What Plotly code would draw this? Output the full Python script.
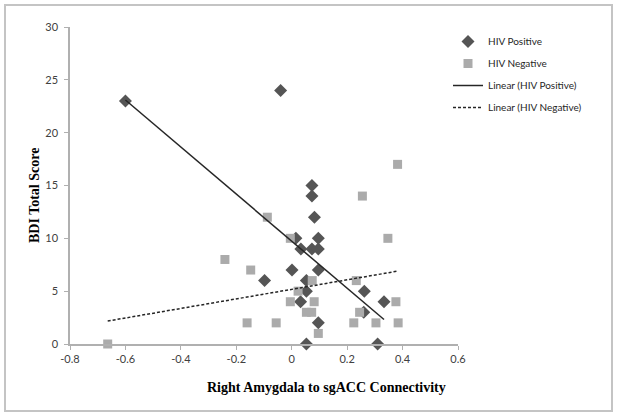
import numpy as np
import plotly.graph_objects as go

# HIV Positive (diamonds)
pos_x = [-0.60, -0.04, 0.073, 0.073, 0.082, 0.015, 0.096, 0.033, 0.073, 0.096,
         0.001, 0.096, -0.098, 0.053, 0.053, 0.262, 0.032, 0.333, 0.26, 0.096,
         0.053, 0.31]
pos_y = [23, 24, 15, 14, 12, 10, 10, 9, 9, 9,
         7, 7, 6, 6, 5, 5, 4, 4, 3, 2,
         0, 0]

# HIV Negative (squares)
neg_x = [-0.664, 0.382, 0.255, -0.088, -0.005, 0.347, -0.148, 0.074, 0.233, 0.023,
         -0.005, 0.081, 0.376, 0.053, 0.072, 0.245, -0.161, -0.056, 0.224, 0.304,
         0.384, 0.096, -0.241]
neg_y = [0, 17, 14, 12, 10, 10, 7, 6, 6, 5,
         4, 4, 4, 3, 3, 3, 2, 2, 2, 2,
         2, 1, 8]

x_tickvals = [-0.8, -0.6, -0.4, -0.2, 0, 0.2, 0.4, 0.6]
x_ticktext = ["-0.8", "-0.6", "-0.4", "-0.2", "0", "0.2", "0.4", "0.6"]
y_tickvals = [0, 5, 10, 15, 20, 25, 30]

names = ["HIV Positive", "HIV Negative", "Linear (HIV Positive)", "Linear (HIV Negative)"]
x_title = "Right Amygdala to sgACC Connectivity"
y_title = "BDI Total Score"

W, H = 618, 417
ML, MR, MT, MB = 70, 160, 27, 73
PW, PH = W - ML - MR, H - MT - MB

def fit_line(xs, ys):
    xs = np.asarray(xs, float); ys = np.asarray(ys, float)
    k, b = np.polyfit(xs, ys, 1)
    xx = np.array([xs.min(), xs.max()])
    return xx, k * xx + b

px_, py_ = fit_line(pos_x, pos_y)
nx_, ny_ = fit_line(neg_x, neg_y)

fig = go.Figure()
fig.add_trace(go.Scatter(x=pos_x, y=pos_y, mode="markers", name=names[0], legendgroup="a",
                         marker=dict(symbol="diamond", size=10, color="#555555"), cliponaxis=False))
fig.add_trace(go.Scatter(x=neg_x, y=neg_y, mode="markers", name=names[1], legendgroup="b",
                         marker=dict(symbol="square", size=9, color="#ababab"), cliponaxis=False))
fig.add_trace(go.Scatter(x=px_, y=py_, mode="lines", name=names[2], legendgroup="c",
                         line=dict(color="#262626", width=1.5)))
fig.add_trace(go.Scatter(x=nx_, y=ny_, mode="lines", name=names[3], legendgroup="d",
                         line=dict(color="#262626", width=1.5, dash="3px,2px")))

axis_common = dict(showline=True, linecolor="#b0b0b0", linewidth=1.5, ticks="outside",
                   ticklen=4, tickcolor="#b0b0b0", showgrid=False, zeroline=False,
                   tickfont=dict(family="Lato, Open Sans, sans-serif", size=11, color="#404040"))

fig.update_xaxes(range=[-0.8, 0.6], tickvals=x_tickvals, ticktext=x_ticktext, **axis_common)
fig.update_yaxes(range=[0, 30], tickvals=y_tickvals, ticklabelstandoff=4, **axis_common)

def px2paper_x(p):
    return (p - ML) / PW

def px2paper_y(p):
    return (H - MB - p) / PH

fig.add_shape(type="rect", xref="paper", yref="paper",
              x0=px2paper_x(5), x1=px2paper_x(612), y0=px2paper_y(411), y1=px2paper_y(5),
              line=dict(color="#c4c4c4", width=2), layer="below")

fig.add_annotation(text="<b>" + x_title + "</b>", xref="paper", yref="paper",
                   x=px2paper_x(326), y=px2paper_y(387), xanchor="center", yanchor="middle",
                   showarrow=False,
                   font=dict(family="Liberation Serif, Times New Roman, serif", size=14, color="#000"))
fig.add_annotation(text="<b>" + y_title + "</b>", xref="paper", yref="paper",
                   x=px2paper_x(34), y=px2paper_y(196), xanchor="center", yanchor="middle",
                   showarrow=False, textangle=-90,
                   font=dict(family="Liberation Serif, Times New Roman, serif", size=14, color="#000"))

fig.update_layout(
    width=W, height=H,
    margin=dict(l=ML, r=MR, t=MT, b=MB),
    paper_bgcolor="white", plot_bgcolor="white",
    showlegend=True,
    legend=dict(x=px2paper_x(448), xanchor="left", y=px2paper_y(27), yanchor="top",
                traceorder="grouped", tracegroupgap=3,
                font=dict(family="Lato, Open Sans, sans-serif", size=10, color="#262626"),
                itemwidth=30),
)

fig.write_html("out.html", config={"displayModeBar": False},
               post_script="document.body.style.margin='0';")
